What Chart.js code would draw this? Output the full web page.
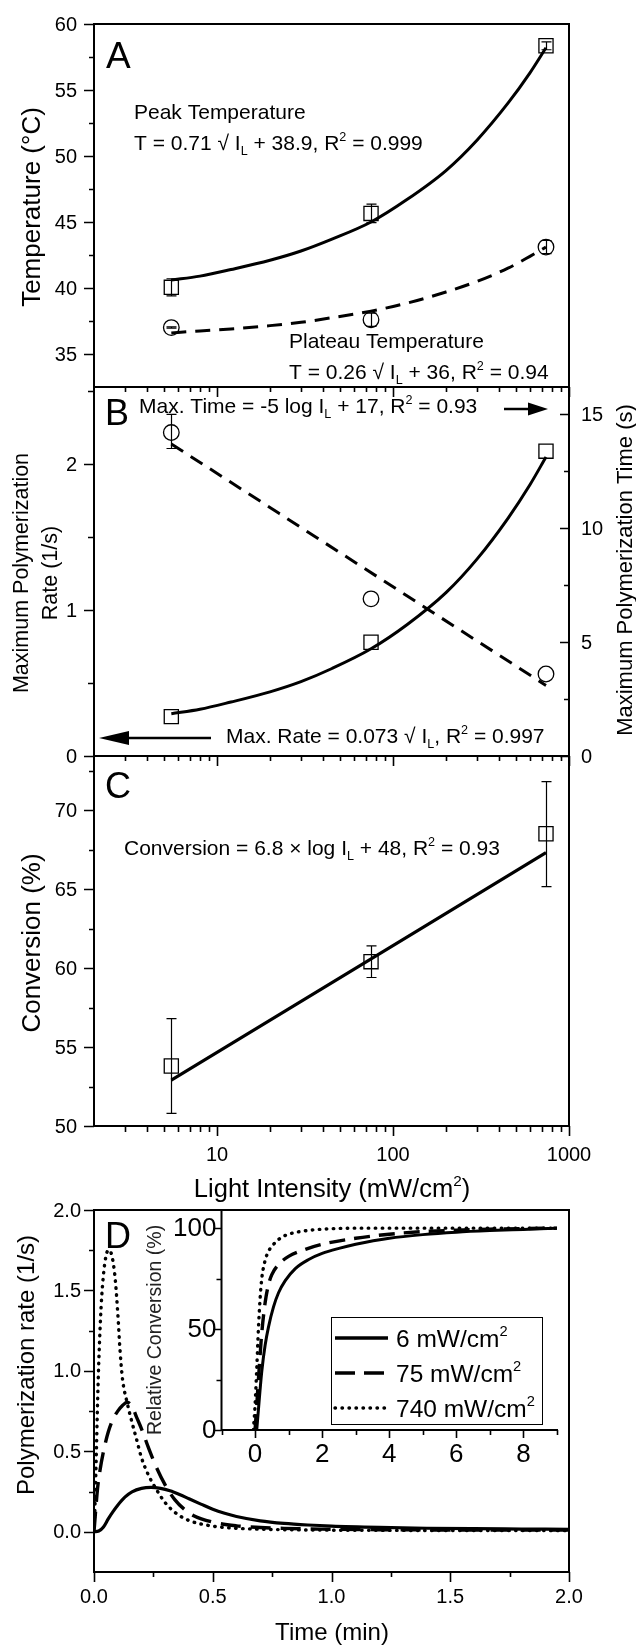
<!DOCTYPE html>
<html>
<head>
<meta charset="utf-8">
<script src="https://cdn.jsdelivr.net/npm/chart.js@4.4.1/dist/chart.umd.min.js"></script>
<style>
  body { margin: 0; background: #fff; }
  #wrap { position: relative; width: 636px; height: 1646px; }
  canvas { position: absolute; left: 0; top: 0; }
</style>
</head>
<body>
<div id="wrap">
  <canvas id="cA" width="636" height="1646"></canvas>
  <canvas id="cB" width="636" height="1646"></canvas>
  <canvas id="cC" width="636" height="1646"></canvas>
  <canvas id="cD" width="636" height="1646"></canvas>
  <canvas id="cE" width="636" height="1646"></canvas>
</div>
<script>
const FONT = '"Liberation Sans", Arial, Helvetica, sans-serif'

// ---- data: light intensity panels (A, B, C)
const intensity = [5.5, 75, 740]
const peakTemp = [40.05, 45.65, 58.35]
const peakLow = [39.4, 44.95, 58.05]
const peakHigh = [40.7, 46.35, 58.65]
const plateauTemp = [37.0, 37.6, 43.1]
const plateauLow = [36.95, 37.1, 42.6]
const plateauHigh = [37.05, 38.1, 43.6]

const fitIntensity = [5.5, 8, 12, 20, 30, 45, 75, 120, 200, 300, 450, 600, 740]
const peakFit = [40.6, 40.9, 41.4, 42.1, 42.8, 43.7, 45.0, 46.7, 48.9, 51.2, 54.0, 56.3, 58.2]
const plateauFit = [36.6, 36.75, 36.9, 37.15, 37.4, 37.75, 38.25, 38.85, 39.7, 40.5, 41.5, 42.4, 43.1]

const maxRate = [0.27, 0.78, 2.09]
const rateFit = [0.29, 0.32, 0.37, 0.44, 0.51, 0.6, 0.735, 0.9, 1.12, 1.35, 1.63, 1.86, 2.05]
const maxTime = [14.2, 6.9, 3.6]
const maxTimeLow = [13.5, 6.9, 3.6]
const maxTimeHigh = [15.0, 6.9, 3.6]
const timeFitIntensity = [5.5, 740]
const timeFit = [13.7, 3.1]

const conversion = [53.8, 60.4, 68.5]
const conversionLow = [50.8, 59.4, 65.15]
const conversionHigh = [56.8, 61.4, 71.8]
const convFitIntensity = [5.5, 740]
const convFit = [52.9, 67.3]

// ---- data: panel D (time in min, rate in 1/s)
const time6 = [0, 0.02, 0.04, 0.06, 0.08, 0.1, 0.13, 0.16, 0.2, 0.24, 0.28, 0.32, 0.36, 0.4, 0.45, 0.5, 0.55, 0.6, 0.7, 0.8, 0.9, 1.0, 1.2, 1.4, 1.6, 1.8, 2.0]
const rate6 = [0, 0.005, 0.03, 0.08, 0.125, 0.165, 0.215, 0.248, 0.27, 0.276, 0.27, 0.255, 0.232, 0.205, 0.172, 0.14, 0.115, 0.095, 0.068, 0.052, 0.042, 0.035, 0.027, 0.022, 0.019, 0.017, 0.015]
const time75 = [0, 0.008, 0.015, 0.025, 0.04, 0.06, 0.08, 0.1, 0.12, 0.14, 0.16, 0.18, 0.2, 0.23, 0.26, 0.3, 0.34, 0.38, 0.42, 0.5, 0.6, 0.7, 0.8, 1.0, 1.2, 1.5, 2.0]
const rate75 = [0, 0.15, 0.27, 0.38, 0.5, 0.62, 0.7, 0.75, 0.785, 0.805, 0.78, 0.71, 0.64, 0.52, 0.41, 0.29, 0.2, 0.14, 0.1, 0.06, 0.037, 0.027, 0.021, 0.016, 0.013, 0.011, 0.01]
const time740 = [0, 0.005, 0.01, 0.015, 0.02, 0.03, 0.04, 0.05, 0.06, 0.07, 0.08, 0.09, 0.1, 0.11, 0.12, 0.14, 0.16, 0.18, 0.2, 0.23, 0.26, 0.3, 0.35, 0.4, 0.5, 0.6, 0.7, 0.8, 1.0, 1.5, 2.0]
const rate740 = [0, 0.2, 0.5, 0.8, 1.05, 1.4, 1.6, 1.71, 1.75, 1.74, 1.68, 1.56, 1.36, 1.12, 0.95, 0.8, 0.68, 0.57, 0.46, 0.35, 0.27, 0.18, 0.11, 0.07, 0.035, 0.022, 0.016, 0.013, 0.01, 0.008, 0.007]

// ---- data: inset (relative conversion %)
const insetTime6 = [0.05, 0.1, 0.15, 0.2, 0.3, 0.4, 0.55, 0.7, 0.9, 1.2, 1.6, 2, 2.5, 3, 4, 5, 6, 7, 8, 9]
const insetConv6 = [0, 10, 20, 29, 42, 51, 61, 68, 74, 80, 84.5, 87.5, 90, 92, 95, 96.8, 98, 98.8, 99.4, 100]
const insetTime75 = [0, 0.05, 0.1, 0.15, 0.2, 0.3, 0.4, 0.5, 0.7, 1.0, 1.5, 2, 3, 4, 5, 6, 7, 8, 9]
const insetConv75 = [0, 12, 25, 37, 48, 63, 72, 77, 82, 86, 89.5, 92, 95, 97, 98.3, 99, 99.5, 99.8, 100]
const insetTime740 = [-0.05, 0, 0.05, 0.1, 0.15, 0.2, 0.3, 0.4, 0.5, 0.75, 1, 1.5, 2, 3, 4, 5, 6, 7, 8, 9]
const insetConv740 = [0, 12, 30, 50, 65, 75, 84, 88.5, 91, 95, 97, 98.7, 99.5, 100, 100, 100, 100, 100, 100, 100]
const legendLabels = ['6 mW/cm^{2}', '75 mW/cm^{2}', '740 mW/cm^{2}']

// ---- ticks
const logMajor = [10, 100, 1000]
const logMinor = [3, 4, 5, 6, 7, 8, 9, 20, 30, 40, 50, 60, 70, 80, 90, 200, 300, 400, 500, 600, 700, 800, 900]
const tempTicks = [35, 40, 45, 50, 55, 60]
const tempMinor = [37.5, 42.5, 47.5, 52.5, 57.5]
const rateTicks = [0, 1, 2]
const rateMinor = [0.5, 1.5, 2.5]
const timeTicks = [0, 5, 10, 15]
const timeMinor = [2.5, 7.5, 12.5]
const convTicks = [50, 55, 60, 65, 70]
const convMinor = [52.5, 57.5, 62.5, 67.5, 72.5]
const dRateTicks = [0, 0.5, 1, 1.5, 2]
const dRateMinor = [0.25, 0.75, 1.25, 1.75]
const dTimeTicks = [0, 0.5, 1, 1.5, 2]
const dTimeMinor = [0.25, 0.75, 1.25, 1.75]
const insetXTicks = [0, 2, 4, 6, 8]
const insetXMinor = [-1, 1, 3, 5, 7, 9]
const insetYTicks = [0, 50, 100]
const insetYMinor = [25, 75]

function pts(xs, ys) {
  return xs.map((x, i) => ({x: x, y: ys[i]}))
}

function curve(xs, ys, axis, dash, width) {
  const dotted = dash && dash[0] < 2
  return {
    data: pts(xs, ys), yAxisID: axis, showLine: true, pointRadius: 0,
    borderColor: '#000', borderWidth: width || 3, borderDash: dash || [],
    borderCapStyle: dotted ? 'round' : 'butt', cubicInterpolationMode: 'monotone', fill: false
  }
}

function markers(xs, ys, axis, style, r) {
  return {
    data: pts(xs, ys), yAxisID: axis, showLine: false, pointStyle: style, pointRadius: r,
    pointBorderWidth: 1.3, pointBorderColor: '#000', pointBackgroundColor: 'rgba(0,0,0,0)'
  }
}

// ---- drawing helpers
function box(ctx, a, sides) {
  sides = sides || 'ltrb'
  ctx.save()
  ctx.strokeStyle = '#000'
  ctx.lineWidth = 2
  ctx.lineCap = 'square'
  ctx.beginPath()
  if (sides.includes('l')) { ctx.moveTo(a.left, a.top); ctx.lineTo(a.left, a.bottom) }
  if (sides.includes('r')) { ctx.moveTo(a.right, a.top); ctx.lineTo(a.right, a.bottom) }
  if (sides.includes('t')) { ctx.moveTo(a.left, a.top); ctx.lineTo(a.right, a.top) }
  if (sides.includes('b')) { ctx.moveTo(a.left, a.bottom); ctx.lineTo(a.right, a.bottom) }
  ctx.stroke()
  ctx.restore()
}

function tickY(ctx, scale, values, xEdge, len) {
  ctx.save()
  ctx.strokeStyle = '#000'
  ctx.lineWidth = 1.6
  ctx.beginPath()
  values.forEach(v => {
    const p = Math.round(scale.getPixelForValue(v)) + 0.5
    ctx.moveTo(xEdge, p)
    ctx.lineTo(xEdge + len, p)
  })
  ctx.stroke()
  ctx.restore()
}

function tickX(ctx, scale, values, yEdge, len) {
  ctx.save()
  ctx.strokeStyle = '#000'
  ctx.lineWidth = 1.6
  ctx.beginPath()
  values.forEach(v => {
    const p = Math.round(scale.getPixelForValue(v)) + 0.5
    ctx.moveTo(p, yEdge)
    ctx.lineTo(p, yEdge + len)
  })
  ctx.stroke()
  ctx.restore()
}

function labelY(ctx, scale, values, fmt, x, align, size) {
  ctx.save()
  ctx.fillStyle = '#000'
  ctx.font = size + 'px ' + FONT
  ctx.textAlign = align
  ctx.textBaseline = 'middle'
  values.forEach(v => ctx.fillText(fmt(v), x, scale.getPixelForValue(v) + 1))
  ctx.restore()
}

function labelX(ctx, scale, values, fmt, y, size) {
  ctx.save()
  ctx.fillStyle = '#000'
  ctx.font = size + 'px ' + FONT
  ctx.textAlign = 'center'
  ctx.textBaseline = 'alphabetic'
  values.forEach(v => ctx.fillText(fmt(v), scale.getPixelForValue(v), y))
  ctx.restore()
}

// text with _{sub} and ^{sup} parts, drawn on the alphabetic baseline
function rich(ctx, str, x, y, size, align, color) {
  const parts = str.split(/(_\{[^}]*\}|\^\{[^}]*\})/).filter(s => s.length)
  const items = parts.map(p => {
    if (p.startsWith('_{')) return {t: p.slice(2, -1), s: size * 0.6, dy: size * 0.22}
    if (p.startsWith('^{')) return {t: p.slice(2, -1), s: size * 0.6, dy: -size * 0.42}
    return {t: p, s: size, dy: 0}
  })
  ctx.save()
  ctx.fillStyle = color || '#000'
  ctx.textBaseline = 'alphabetic'
  ctx.textAlign = 'left'
  let w = 0
  items.forEach(it => { ctx.font = it.s + 'px ' + FONT; it.w = ctx.measureText(it.t).width; w += it.w })
  let cx = x
  if (align === 'center') cx = x - w / 2
  if (align === 'right') cx = x - w
  items.forEach(it => {
    ctx.font = it.s + 'px ' + FONT
    ctx.fillText(it.t, cx, y + it.dy)
    cx += it.w
  })
  ctx.restore()
}

// vertical text, reading bottom to top, centred at (x, y)
function vText(ctx, str, x, y, size, color) {
  ctx.save()
  ctx.translate(x, y)
  ctx.rotate(-Math.PI / 2)
  ctx.fillStyle = color || '#000'
  ctx.font = size + 'px ' + FONT
  ctx.textAlign = 'center'
  ctx.textBaseline = 'middle'
  ctx.fillText(str, 0, 0)
  ctx.restore()
}

function arrow(ctx, x1, x2, y, head, half) {
  const d = x2 > x1 ? 1 : -1
  ctx.save()
  ctx.strokeStyle = '#000'
  ctx.fillStyle = '#000'
  ctx.lineWidth = 2.5
  ctx.beginPath()
  ctx.moveTo(x1, y)
  ctx.lineTo(x2 - d * head * 0.8, y)
  ctx.stroke()
  ctx.beginPath()
  ctx.moveTo(x2, y)
  ctx.lineTo(x2 - d * head, y - half)
  ctx.lineTo(x2 - d * head, y + half)
  ctx.closePath()
  ctx.fill()
  ctx.restore()
}

function errorBars(chart, xs, lows, highs, axis, cap) {
  const ctx = chart.ctx, xs_ = chart.scales.x, ys_ = chart.scales[axis]
  ctx.save()
  ctx.strokeStyle = '#000'
  ctx.lineWidth = 1.2
  ctx.beginPath()
  xs.forEach((x, i) => {
    if (highs[i] === lows[i]) return
    const px = Math.round(xs_.getPixelForValue(x)) + 0.5
    const y1 = ys_.getPixelForValue(lows[i]), y2 = ys_.getPixelForValue(highs[i])
    ctx.moveTo(px, y1); ctx.lineTo(px, y2)
    ctx.moveTo(px - cap, y1); ctx.lineTo(px + cap, y1)
    ctx.moveTo(px - cap, y2); ctx.lineTo(px + cap, y2)
  })
  ctx.stroke()
  ctx.restore()
}

function makeChart(id, area, scales, datasets, plugin) {
  for (const k in scales) { scales[k].display = false; scales[k].bounds = 'data' }
  return new Chart(document.getElementById(id), {
    type: 'scatter',
    data: {datasets: datasets},
    options: {
      responsive: false, animation: false, devicePixelRatio: 1, events: [],
      layout: {padding: {left: area.l, top: area.t, right: 636 - area.r, bottom: 1646 - area.b}},
      plugins: {legend: {display: false}, tooltip: {enabled: false}},
      scales: scales
    },
    plugins: [plugin]
  })
}

const logX = () => ({type: 'logarithmic', min: 2, max: 1000})

// ---- panel A
makeChart('cA', {l: 94, r: 569, t: 24, b: 387},
  {x: logX(), y: {type: 'linear', min: 32.5, max: 60}},
  [
    curve(fitIntensity, peakFit, 'y', null, 3),
    curve(fitIntensity, plateauFit, 'y', [15, 9], 3),
    markers(intensity, peakTemp, 'y', 'rect', 10),
    markers(intensity, plateauTemp, 'y', 'circle', 7.8)
  ],
  {
    id: 'decoA',
    afterDatasetsDraw(chart) {
      errorBars(chart, intensity, peakLow, peakHigh, 'y', 5)
      errorBars(chart, intensity, plateauLow, plateauHigh, 'y', 5)
    },
    afterDraw(chart) {
      const ctx = chart.ctx, a = chart.chartArea, y = chart.scales.y
      box(ctx, a)
      tickY(ctx, y, tempTicks, a.left, -10)
      tickY(ctx, y, tempMinor, a.left, -5)
      labelY(ctx, y, tempTicks, v => String(v), a.left - 17, 'right', 20)
      vText(ctx, 'Temperature (°C)', 32.5, 207, 26)
      rich(ctx, 'A', 106, 68, 37)
      rich(ctx, 'Peak Temperature', 134, 119, 21)
      rich(ctx, 'T = 0.71 √ I_{L} + 38.9, R^{2} = 0.999', 134, 150, 21)
      rich(ctx, 'Plateau Temperature', 289, 348, 21)
      rich(ctx, 'T = 0.26 √ I_{L} + 36, R^{2} = 0.94', 289, 379, 21)
    }
  })

// ---- panel B
makeChart('cB', {l: 94, r: 569, t: 387, b: 756},
  {x: logX(), yL: {type: 'linear', min: 0, max: 2.53, position: 'left'}, yR: {type: 'linear', min: 0, max: 16.2, position: 'right'}},
  [
    curve(fitIntensity, rateFit, 'yL', null, 3),
    curve(timeFitIntensity, timeFit, 'yR', [14, 9], 3),
    markers(intensity, maxRate, 'yL', 'rect', 10),
    markers(intensity, maxTime, 'yR', 'circle', 7.8)
  ],
  {
    id: 'decoB',
    afterDatasetsDraw(chart) {
      errorBars(chart, intensity, maxTimeLow, maxTimeHigh, 'yR', 5)
    },
    afterDraw(chart) {
      const ctx = chart.ctx, a = chart.chartArea, x = chart.scales.x, yL = chart.scales.yL, yR = chart.scales.yR
      box(ctx, a)
      tickY(ctx, yL, rateTicks, a.left, -10)
      tickY(ctx, yL, rateMinor, a.left, -6)
      tickY(ctx, yR, timeTicks, a.right, -9)
      tickY(ctx, yR, timeMinor, a.right, -5)
      tickX(ctx, x, logMajor, a.top, 10)
      tickX(ctx, x, logMinor, a.top, 5)
      labelY(ctx, yL, rateTicks, v => String(v), a.left - 17, 'right', 20)
      labelY(ctx, yR, timeTicks, v => String(v), a.right + 12, 'left', 20)
      vText(ctx, 'Maximum Polymerization', 22.5, 573, 21.5)
      vText(ctx, 'Rate (1/s)', 51, 573, 21.5)
      vText(ctx, 'Maximum Polymerization Time (s)', 626, 570, 22)
      rich(ctx, 'B', 105, 425, 36)
      rich(ctx, 'Max. Time = -5 log I_{L} + 17, R^{2} = 0.93', 139, 413, 21)
      arrow(ctx, 504, 548, 409, 20, 6.5)
      rich(ctx, 'Max. Rate = 0.073 √ I_{L}, R^{2} = 0.997', 226, 743, 21)
      arrow(ctx, 211, 99, 738, 30, 7)
    }
  })

// ---- panel C
makeChart('cC', {l: 94, r: 569, t: 756, b: 1126},
  {x: logX(), y: {type: 'linear', min: 50, max: 73.42}},
  [
    curve(convFitIntensity, convFit, 'y', null, 3.2),
    markers(intensity, conversion, 'y', 'rect', 10)
  ],
  {
    id: 'decoC',
    afterDatasetsDraw(chart) {
      errorBars(chart, intensity, conversionLow, conversionHigh, 'y', 5)
    },
    afterDraw(chart) {
      const ctx = chart.ctx, a = chart.chartArea, x = chart.scales.x, y = chart.scales.y
      box(ctx, a)
      tickY(ctx, y, convTicks, a.left, -10)
      tickY(ctx, y, convMinor, a.left, -5)
      tickX(ctx, x, logMajor, a.top, 10)
      tickX(ctx, x, logMinor, a.top, 5)
      tickX(ctx, x, logMajor, a.bottom, 10)
      tickX(ctx, x, logMinor, a.bottom, 6)
      labelY(ctx, y, convTicks, v => String(v), a.left - 17, 'right', 20)
      labelX(ctx, x, logMajor, v => String(v), 1161, 20)
      vText(ctx, 'Conversion (%)', 32.5, 943, 26)
      rich(ctx, 'Light Intensity (mW/cm^{2})', 332, 1197, 25.5, 'center')
      rich(ctx, 'C', 105, 798, 36)
      rich(ctx, 'Conversion = 6.8 × log I_{L} + 48, R^{2} = 0.93', 124, 855, 21)
    }
  })

// ---- panel D
makeChart('cD', {l: 94, r: 569, t: 1210, b: 1572},
  {x: {type: 'linear', min: 0, max: 2}, y: {type: 'linear', min: -0.25, max: 2}},
  [
    curve(time6, rate6, 'y', null, 3.2),
    curve(time75, rate75, 'y', [20, 10], 3.4),
    curve(time740, rate740, 'y', [0.5, 6.5], 3.4)
  ],
  {
    id: 'decoD',
    afterDraw(chart) {
      const ctx = chart.ctx, a = chart.chartArea, x = chart.scales.x, y = chart.scales.y
      box(ctx, a)
      tickY(ctx, y, dRateTicks, a.left, -10)
      tickY(ctx, y, dRateMinor, a.left, -5)
      tickX(ctx, x, dTimeTicks, a.bottom, 10)
      tickX(ctx, x, dTimeMinor, a.bottom, 5)
      labelY(ctx, y, dRateTicks, v => v.toFixed(1), a.left - 13, 'right', 20)
      labelX(ctx, x, dTimeTicks, v => v.toFixed(1), 1603, 20)
      vText(ctx, 'Polymerization rate (1/s)', 27.5, 1365, 24)
      rich(ctx, 'Time (min)', 332, 1640, 24, 'center')
      rich(ctx, 'D', 105, 1248, 36)
    }
  })

// ---- inset of D
makeChart('cE', {l: 221.5, r: 557, t: 1210, b: 1430},
  {x: {type: 'linear', min: -1, max: 9}, y: {type: 'linear', min: 0, max: 109}},
  [
    curve(insetTime6, insetConv6, 'y', null, 3),
    curve(insetTime75, insetConv75, 'y', [16, 9], 3.4),
    curve(insetTime740, insetConv740, 'y', [0.5, 6.5], 3.4)
  ],
  {
    id: 'decoE',
    afterDraw(chart) {
      const ctx = chart.ctx, a = chart.chartArea, x = chart.scales.x, y = chart.scales.y
      box(ctx, a, 'lb')
      tickY(ctx, y, insetYTicks, a.left, -8)
      tickY(ctx, y, insetYMinor, a.left, -5)
      tickX(ctx, x, insetXTicks, a.bottom, 8)
      tickX(ctx, x, insetXMinor, a.bottom, 5)
      labelY(ctx, y, insetYTicks, v => String(v), a.left - 5, 'right', 26)
      labelX(ctx, x, insetXTicks, v => String(v), 1462, 26)
      vText(ctx, 'Relative Conversion (%)', 156, 1330, 19.5, '#222')

      // legend
      ctx.save()
      ctx.fillStyle = '#fff'
      ctx.fillRect(331, 1317, 211, 107)
      ctx.strokeStyle = '#000'
      ctx.lineWidth = 1
      ctx.strokeRect(331.5, 1317.5, 211, 107)
      const styles = [[[], 'butt', 3.4], [[20, 9], 'butt', 3.6], [[0.5, 6.5], 'round', 3.4]]
      const rowY = [1338, 1373, 1408]
      styles.forEach((s, i) => {
        ctx.setLineDash(s[0])
        ctx.lineCap = s[1]
        ctx.lineWidth = s[2]
        ctx.beginPath()
        ctx.moveTo(335, rowY[i])
        ctx.lineTo(388, rowY[i])
        ctx.stroke()
      })
      ctx.restore()
      legendLabels.forEach((t, i) => rich(ctx, t, 396, rowY[i] + 8.5, 24.5))
    }
  })
</script>
</body>
</html>
